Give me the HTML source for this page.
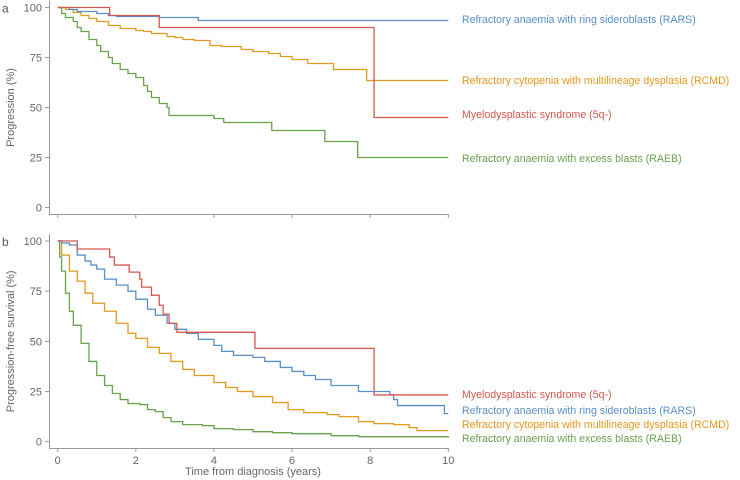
<!DOCTYPE html>
<html><head><meta charset="utf-8"><style>
html,body{margin:0;padding:0;background:#fff;}
svg{display:block;font-family:"Liberation Sans",sans-serif;}
</style></head><body>
<svg id="chart" width="740" height="480"></svg>
<script>
const xTicks=[0,2,4,6,8,10];
const yTicks=[0,25,50,75,100];
const seriesNames=["Refractory anaemia with ring sideroblasts (RARS)","Refractory cytopenia with multilineage dysplasia (RCMD)","Myelodysplastic syndrome (5q-)","Refractory anaemia with excess blasts (RAEB)"];
const aRARS=[[0,100],[0.3,99],[0.5,98],[1,97],[1.3,96],[1.5,95.5],[2.6,95],[3.6,93.5],[10,93.5]];
const aRCMD=[[0,100],[0.2,99],[0.4,97.5],[0.6,96],[0.8,94.5],[1,93],[1.3,91],[1.6,89.5],[2,88.5],[2.2,88],[2.4,87],[2.8,85.5],[3,85],[3.2,84],[3.5,83.5],[3.9,81],[4.2,80.5],[4.7,79],[5,78],[5.4,77],[5.7,75.5],[6,74],[6.4,72],[7.06,69],[7.91,63.5],[10,63.5]];
const a5q=[[0,100],[1.33,96],[2.6,90],[8.1,45],[10,45]];
const aRAEB=[[0,100],[0.1,97],[0.2,95],[0.4,93],[0.5,90],[0.6,88],[0.8,84],[1,81],[1.1,78],[1.3,75],[1.4,72],[1.6,69],[1.8,67],[2.0,65],[2.2,61],[2.3,58],[2.4,55],[2.6,52],[2.8,50],[2.85,46],[4.0,44.5],[4.25,42.5],[5.48,38.5],[6.84,33],[7.68,25],[10,25]];
const bRARS=[[0,100],[0.1,99],[0.3,98],[0.5,93],[0.7,90],[0.85,88],[1,86],[1.2,81],[1.5,78],[1.8,75],[2,71],[2.3,66],[2.5,63],[2.8,59],[3,56],[3.3,54],[3.6,51],[4,48],[4.2,45],[4.5,43],[5,42],[5.3,40],[5.7,37],[6,35],[6.3,33],[6.6,31],[7,28],[7.7,25],[8.5,23.5],[8.6,21],[8.7,18],[9.9,14],[10,14]];
const bRCMD=[[0,100],[0.1,93],[0.3,85],[0.5,80],[0.7,74],[0.9,69],[1.2,65],[1.5,59],[1.8,54],[2,51.5],[2.3,47],[2.6,44],[2.9,40],[3.2,36],[3.5,33],[4,29.5],[4.3,27],[4.6,25],[5,22.5],[5.5,19.5],[5.9,16],[6.3,14.5],[6.9,13.5],[7.2,12.5],[7.7,10],[8.1,9],[8.6,8.5],[9,7],[9.2,5.5],[10,5.5]];
const b5q=[[0,100],[0.5,96],[1.33,92],[1.45,88],[1.83,84.5],[2.1,81],[2.15,77],[2.4,73],[2.6,68],[2.7,63.5],[2.85,59],[3.05,54.5],[5.05,46.5],[8.1,23.3],[10,23.3]];
const bRAEB=[[0,100],[0.05,92],[0.1,85],[0.2,74],[0.3,65],[0.4,58],[0.6,49],[0.8,40],[1,33],[1.2,28],[1.4,24],[1.6,21],[1.8,19],[2.1,18.5],[2.3,16],[2.5,15],[2.7,12],[2.9,10],[3.2,8.5],[3.7,8],[4,6.5],[4.5,6],[5,5],[5.5,4.5],[6,4],[7,3],[7.7,2.5],[10,2]];

const NS="http://www.w3.org/2000/svg";
const svg=document.getElementById('chart');
const colors={RARS:"#5a8fc4",RCMD:"#e49a1e",q5:"#d4584e",RAEB:"#6aa24c"};
const x=v=>57.7+v*39.06;
function mk(tag,attrs,parent){const e=document.createElementNS(NS,tag);for(const k in attrs)e.setAttribute(k,attrs[k]);(parent||svg).appendChild(e);return e;}
function panel(id,top,bottom,axisY,letter,ytitle,series,labels,showXLabels){
  const y=v=>bottom-(bottom-top)*v/100;
  const g=mk('g',{});
  
  
  const ya=mk('line',{x1:49.5,x2:49.5,y1:top-7,y2:axisY,stroke:"#999","stroke-width":1},g);
  
  
  const xa=mk('line',{x1:49,x2:449,y1:axisY+0.5,y2:axisY+0.5,stroke:"#999","stroke-width":1},g);
  
  
  yTicks.forEach(t=>{
    mk('line',{x1:45,x2:49.5,y1:y(t),y2:y(t),stroke:"#999"},g);
    const tx=mk('text',{x:42,y:y(t)+4,"text-anchor":"end","font-size":11,fill:"#666"},g);
    tx.textContent=t;
    
    
  });
  xTicks.forEach(t=>{
    mk('line',{x1:x(t),x2:x(t),y1:axisY,y2:axisY+4,stroke:"#999"},g);
    if(showXLabels){
      const tx=mk('text',{x:x(t),y:axisY+16,"text-anchor":"middle","font-size":11,fill:"#666"},g);
      tx.textContent=t;
      
      
    }
  });
  const lt=mk('text',{x:2,y:top+5,"font-size":12,fill:"#555"},g);
  lt.textContent=letter;
  
  
  const mid=(top+bottom)/2;
  const yt=mk('text',{x:14,y:mid,"text-anchor":"middle","font-size":11,fill:"#666",transform:`rotate(-90 14 ${mid})`},g);
  yt.textContent=ytitle;
  
  
  series.forEach(s=>{
    let d="";
    s.data.forEach((p,i)=>{
      if(i===0)d+=`M${x(p[0])},${y(p[1])}`;
      else d+=`H${x(p[0])}V${y(p[1])}`;
    });
    const path=mk('path',{d:d,fill:"none",stroke:s.color,"stroke-width":1.3},g);
    
    
  });
  labels.forEach(l=>{
    const tx=mk('text',{x:462,y:l.y,"font-size":10.6,fill:l.color},g);
    tx.textContent=l.text;
    
    
  });
}
panel('panel-a-progression',7.5,207.5,214,'a','Progression (%)',
 [{key:'RCMD',data:aRCMD,color:colors.RCMD},{key:'RAEB',data:aRAEB,color:colors.RAEB},{key:'RARS',data:aRARS,color:colors.RARS},{key:'5q',data:a5q,color:colors.q5}],
 [{key:'RARS',y:23,text:seriesNames[0],color:colors.RARS},{key:'RCMD',y:84,text:seriesNames[1],color:colors.RCMD},{key:'5q',y:118,text:seriesNames[2],color:colors.q5},{key:'RAEB',y:162,text:seriesNames[3],color:colors.RAEB}],false);
panel('panel-b-pfs',241,441.7,448,'b','Progression-free survival (%)',
 [{key:'RAEB',data:bRAEB,color:colors.RAEB},{key:'RCMD',data:bRCMD,color:colors.RCMD},{key:'RARS',data:bRARS,color:colors.RARS},{key:'5q',data:b5q,color:colors.q5}],
 [{key:'5q',y:398,text:seriesNames[2],color:colors.q5},{key:'RARS',y:414,text:seriesNames[0],color:colors.RARS},{key:'RCMD',y:428,text:seriesNames[1],color:colors.RCMD},{key:'RAEB',y:442,text:seriesNames[3],color:colors.RAEB}],true);
const xt=mk('text',{x:253,y:475,"text-anchor":"middle","font-size":11,fill:"#666"});
xt.textContent="Time from diagnosis (years)";


</script>
</body></html>
